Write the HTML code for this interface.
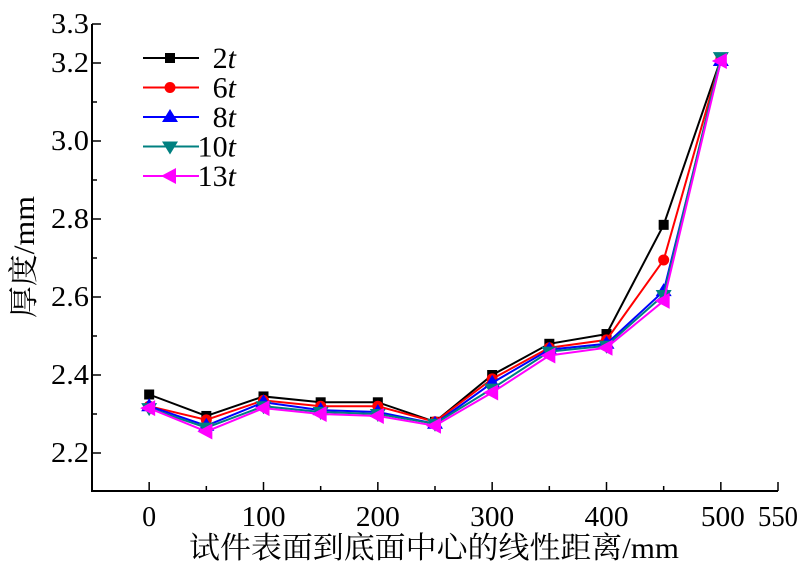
<!DOCTYPE html>
<html><head><meta charset="utf-8"><style>
body{margin:0;background:#fff}
svg{display:block;font-family:"Liberation Serif","Noto Serif CJK SC",serif}
</style></head><body>
<svg id="chart" width="800" height="567" viewBox="0 0 800 567" xmlns="http://www.w3.org/2000/svg"></svg>
<script>
const xCats=[0,50,100,150,200,250,300,350,400,450,500];
const s2t=[2.35,2.295,2.345,2.33,2.33,2.28,2.40,2.48,2.505,2.785,3.21];
const s6t=[2.32,2.285,2.335,2.32,2.32,2.28,2.39,2.47,2.49,2.695,3.21];
const s8t=[2.32,2.27,2.33,2.31,2.305,2.275,2.38,2.465,2.48,2.615,3.205];
const s10t=[2.315,2.265,2.32,2.305,2.30,2.275,2.365,2.46,2.475,2.605,3.215];
const s13t=[2.315,2.255,2.315,2.30,2.295,2.27,2.355,2.45,2.47,2.59,3.205];
const seriesNames=["2","6","8","10","13"];
const xTicks=[0,100,200,300,400,500,550];
const xMinor=[50,150,250,350,450];
const yTicks=[2.2,2.4,2.6,2.8,3.0,3.2,3.3];
const yMinor=[2.3,2.5,2.7,2.9,3.1];
const NS="http://www.w3.org/2000/svg";
const svg=document.getElementById('chart');
const L=92,R=778,T=24,B=491;
const X=v=>L+(v+50)/600*(R-L);
const Y=v=>453-(v-2.2)/0.2*78;
function mk(tag,a,p){const e=document.createElementNS(NS,tag);for(const k in a)e.setAttribute(k,a[k]);(p||svg).appendChild(e);return e;}
let e;
e=mk('path',{d:`M${L},${T}V${B}H${R}`,stroke:'#000','stroke-width':2,fill:'none'});


xTicks.forEach(v=>{
 e=mk('line',{x1:X(v),x2:X(v),y1:B,y2:B-9,stroke:'#000','stroke-width':1.5});
 
 
 e=mk('text',{x:X(v)+(v==500?2:v==550?0:0),y:B+35,'font-size':28,'text-anchor':'middle',textLength:v==0?14:(v==550?40:44),lengthAdjust:'spacingAndGlyphs'});e.textContent=v;
 
 
});
xMinor.forEach(v=>{e=mk('line',{x1:X(v),x2:X(v),y1:B,y2:B-5,stroke:'#000','stroke-width':1.5});
 
 });
yTicks.forEach(v=>{
 e=mk('line',{x1:L,x2:L+9,y1:Y(v),y2:Y(v),stroke:'#000','stroke-width':1.5});
 
 
 e=mk('text',{x:L-3,y:Y(v)+9,'font-size':28,'text-anchor':'end',textLength:38,lengthAdjust:'spacingAndGlyphs'});e.textContent=v.toFixed(1);
 
 
});
yMinor.forEach(v=>{e=mk('line',{x1:L,x2:L+5,y1:Y(v),y2:Y(v),stroke:'#000','stroke-width':1.5});
 
 });
e=mk('text',{x:434,y:558,'font-size':30,'text-anchor':'middle',textLength:490,lengthAdjust:'spacingAndGlyphs'});e.textContent='试件表面到底面中心的线性距离/mm';


e=mk('text',{x:0,y:0,'font-size':30,'text-anchor':'middle',transform:'translate(34,257) rotate(-90)',textLength:122,lengthAdjust:'spacingAndGlyphs'});e.textContent='厚度/mm';


const colors=['#000','#f00','#00f','#008080','#f0f'];
const data=[s2t,s6t,s8t,s10t,s13t];
function marker(k,cx,cy,g){
 const c=colors[k];
 if(k==0)return mk('rect',{x:cx-5,y:cy-5,width:10,height:10,fill:c},g);
 if(k==1)return mk('circle',{cx,cy,r:5.5,fill:c},g);
 if(k==2)return mk('polygon',{points:`${cx},${cy-8} ${cx-8},${cy+5} ${cx+8},${cy+5}`,fill:c},g);
 if(k==3)return mk('polygon',{points:`${cx},${cy+8} ${cx-8},${cy-5} ${cx+8},${cy-5}`,fill:c},g);
 return mk('polygon',{points:`${cx-9},${cy} ${cx+6},${cy-8} ${cx+6},${cy+8}`,fill:c},g);
}
data.forEach((s,k)=>{
 const g=mk('g',{});
 
 
 e=mk('polyline',{points:s.map((v,i)=>X(xCats[i])+','+Y(v)).join(' '),fill:'none',stroke:colors[k],'stroke-width':2},g);
 
 
 s.forEach((v,i)=>{e=marker(k,X(xCats[i]),Y(v),g);
  
  });
 const ly=58+k*29.5;
 const lg=mk('g',{},svg);
 
 
 mk('line',{x1:143,x2:199,y1:ly,y2:ly,stroke:colors[k],'stroke-width':2},lg);
 marker(k,170,ly,lg);
 const t=mk('text',{x:236,y:ly+10,'font-size':30,'text-anchor':'end'},lg);
 t.textContent=seriesNames[k];
 const ti=mk('tspan',{'font-style':'italic'},t);ti.textContent='t';
});
</script>
</body></html>
